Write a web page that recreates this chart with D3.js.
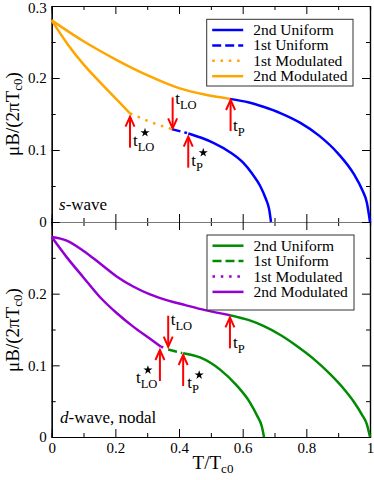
<!DOCTYPE html>
<html>
<head>
<meta charset="utf-8">
<script src="https://cdn.jsdelivr.net/npm/d3@7"></script>
<style>
  body { margin: 0; background: #fff; }
  svg { display: block; font-family: "Liberation Serif", "DejaVu Serif", serif; }
</style>
</head>
<body>
<div id="chart"></div>
<script>
// ---- data (T/Tc0, muB/(2 pi Tc0)) ----
var xTicks = [0, 0.2, 0.4, 0.6, 0.8, 1];
var yTicksTop = [0, 0.1, 0.2, 0.3];
var yTicksBot = [0, 0.1, 0.2];
var legendLabels = ["2nd Uniform", "1st Uniform", "1st Modulated", "2nd Modulated"];

// s-wave
var sUpperMod2 = [[0, 0.28], [0.1, 0.251], [0.2, 0.226], [0.3, 0.204], [0.4, 0.186], [0.48, 0.177], [0.56, 0.171]];
var sUpperUni2 = [[0.56, 0.171], [0.62, 0.166], [0.665, 0.160], [0.72, 0.151], [0.78, 0.138], [0.84, 0.120], [0.9, 0.095], [0.95, 0.066], [0.975, 0.045], [0.99, 0.027], [1, 0]];
var sLowerMod2 = [[0, 0.28], [0.05, 0.247], [0.1, 0.219], [0.15, 0.195], [0.2, 0.172], [0.246, 0.151]];
var sLowerMod1 = [[0.246, 0.151], [0.31, 0.139], [0.377, 0.129]];
var sLowerUni1 = [[0.377, 0.129], [0.425, 0.1235]];
var sLowerUni2 = [[0.429, 0.123], [0.47, 0.117], [0.508, 0.110], [0.56, 0.097], [0.6, 0.083], [0.63, 0.067], [0.655, 0.050], [0.672, 0.033], [0.683, 0.018], [0.689, 0]];

// d-wave, nodal
var dUpperMod2 = [[0, 0.279], [0.047, 0.274], [0.099, 0.260], [0.152, 0.242], [0.204, 0.224], [0.256, 0.210], [0.309, 0.199], [0.361, 0.191], [0.42, 0.184], [0.482, 0.177], [0.56, 0.170]];
var dUpperUni2 = [[0.56, 0.170], [0.62, 0.163], [0.665, 0.155], [0.72, 0.142], [0.77, 0.127], [0.82, 0.110], [0.874, 0.088], [0.92, 0.066], [0.948, 0.050], [0.975, 0.031], [0.99, 0.018], [1, 0]];
var dLowerMod2 = [[0, 0.279], [0.047, 0.251], [0.099, 0.223], [0.152, 0.195], [0.204, 0.173], [0.256, 0.154], [0.309, 0.137], [0.343, 0.126]];
var dLowerMod1 = [[0.343, 0.126], [0.358, 0.124]];
var dLowerUni1 = [[0.366, 0.122], [0.41, 0.117]];
var dLowerUni2 = [[0.413, 0.117], [0.466, 0.111], [0.529, 0.094], [0.581, 0.072], [0.623, 0.048], [0.645, 0.030], [0.66, 0.015], [0.667, 0]];

// arrow annotations: tip position in data units
var sArrowT = [0.246, 0.380, 0.429, 0.562];
var sArrowMu = [0.1463, 0.130, 0.1185, 0.1694];
var dArrowT = [0.340, 0.366, 0.413, 0.560];
var dArrowMu = [0.1214, 0.126, 0.1144, 0.167];
var arrowDir = ["up", "down", "up", "up"];
var arrowSub = ["LO", "LO", "P", "P"];
var arrowStar = [true, false, true, false];

// ---- layout ----
var W = 374, H = 480;
var svg = d3.select("#chart").append("svg").attr("width", W).attr("height", H);

var x = d3.scaleLinear().domain([0, 1]).range([51.7, 370]);
var yTop = d3.scaleLinear().domain([0, 0.3]).range([222, 6]);
var yBot = d3.scaleLinear().domain([0, 0.3]).range([437, 222]);

var fmt = d3.format("~g");

function drawPanel(y, opts) {
  var g = svg.append("g");
  var r = x.range(), yr = y.range();

  // minor ticks
  var minorX = d3.range(0.1, 1, 0.2);
  var minorY = d3.range(0.05, 0.3, 0.1);
  g.append("g").attr("transform", "translate(0," + yr[0] + ")")
    .call(d3.axisBottom(x).tickValues(minorX).tickSize(-4).tickFormat(""));
  g.append("g").attr("transform", "translate(0," + yr[1] + ")")
    .call(d3.axisTop(x).tickValues(minorX).tickSize(-4).tickFormat(""));
  g.append("g").attr("transform", "translate(" + r[0] + ",0)")
    .call(d3.axisLeft(y).tickValues(minorY).tickSize(-4).tickFormat(""));
  g.append("g").attr("transform", "translate(" + r[1] + ",0)")
    .call(d3.axisRight(y).tickValues(minorY).tickSize(-4).tickFormat(""));

  // major ticks
  var bx = d3.axisBottom(x).tickValues(xTicks).tickSize(-8).tickSizeOuter(0).tickPadding(5);
  if (opts.xLabels) bx.tickFormat(fmt); else bx.tickFormat("");
  g.append("g").attr("class", "ax-bottom").attr("transform", "translate(0," + yr[0] + ")").call(bx);
  g.append("g").attr("class", "ax-top").attr("transform", "translate(0," + yr[1] + ")")
    .call(d3.axisTop(x).tickValues(xTicks).tickSize(-8).tickSizeOuter(0).tickFormat(""));
  g.append("g").attr("class", "ax-left").attr("transform", "translate(" + r[0] + ",0)")
    .call(d3.axisLeft(y).tickValues([0, 0.1, 0.2, 0.3]).tickSize(-8).tickSizeOuter(0).tickPadding(5)
      .tickFormat(function(d) { return opts.yLabels.indexOf(d) >= 0 ? fmt(d) : ""; }));
  g.append("g").attr("transform", "translate(" + r[1] + ",0)")
    .call(d3.axisRight(y).tickValues([0, 0.1, 0.2, 0.3]).tickSize(-8).tickSizeOuter(0).tickFormat(""));

  g.selectAll(".tick line").attr("stroke", "#000").attr("stroke-width", 1);
  g.selectAll(".domain").attr("stroke", "#000").attr("stroke-width", 1.2);
  g.selectAll(opts.sharedEdge + " .domain").attr("stroke", "#777");
  g.selectAll(".tick text").attr("font-family", "Liberation Serif").attr("font-size", 15).attr("fill", "#000");
  return g;
}

var gTop = drawPanel(yTop, { xLabels: false, yLabels: yTicksTop, sharedEdge: ".ax-bottom" });
var gBot = drawPanel(yBot, { xLabels: true, yLabels: yTicksBot, sharedEdge: ".ax-top" });
// keep the topmost label inside the page
gTop.selectAll(".ax-left .tick text").filter(function(d) { return d === 0.3; }).attr("dy", "0.42em");

// series styles
var STYLE = {
  uni2: { dash: null },
  uni1: { dash: "9,4" },
  mod1: { dash: "2.5,5.8" },
  mod2: { dash: null }
};

function drawCurve(y, data, color, kind) {
  var line = d3.line()
    .x(function(d) { return x(d[0]); })
    .y(function(d) { return y(d[1]); })
    .curve(d3.curveMonotoneX);
  svg.append("path")
    .datum(data)
    .attr("d", line)
    .attr("fill", "none")
    .attr("stroke", color)
    .attr("stroke-width", 2.5)
    .attr("stroke-dasharray", STYLE[kind].dash);
}

var BLUE = "#0000ff", ORANGE = "#ffa500", GREEN = "#008c00", PURPLE = "#9400d3", RED = "#ff0000";

drawCurve(yTop, sUpperMod2, ORANGE, "mod2");
drawCurve(yTop, sUpperUni2, BLUE, "uni2");
drawCurve(yTop, sLowerMod2, ORANGE, "mod2");
drawCurve(yTop, sLowerMod1, ORANGE, "mod1");
drawCurve(yTop, sLowerUni1, BLUE, "uni1");
drawCurve(yTop, sLowerUni2, BLUE, "uni2");

drawCurve(yBot, dUpperMod2, PURPLE, "mod2");
drawCurve(yBot, dUpperUni2, GREEN, "uni2");
drawCurve(yBot, dLowerMod2, PURPLE, "mod2");
drawCurve(yBot, dLowerMod1, PURPLE, "mod1");
drawCurve(yBot, dLowerUni1, GREEN, "uni1");
drawCurve(yBot, dLowerUni2, GREEN, "uni2");

// arrows with t labels
function drawArrows(y, Ts, Mus, labelOffsets) {
  var len = 31;
  Ts.forEach(function(T, i) {
    var px = x(T), tip = y(Mus[i]);
    var dir = arrowDir[i] === "up" ? 1 : -1;   // tail is below tip for "up"
    var tail = tip + dir * len;
    var g = svg.append("g").attr("stroke", RED).attr("stroke-width", 2).attr("fill", "none");
    g.append("line").attr("x1", px).attr("y1", tail).attr("x2", px).attr("y2", tip + dir * 1);
    g.append("path")
      .attr("d", "M" + (px - 4.5) + "," + (tip + dir * 10) + "L" + px + "," + tip + "L" + (px + 4.5) + "," + (tip + dir * 10));

    var o = labelOffsets[i];
    var lx = px + o[0], ly = tail + o[1];
    var t = svg.append("text")
      .attr("x", lx).attr("y", ly)
      .attr("font-family", "Liberation Serif")
      .attr("font-size", 17)
      .attr("fill", "#000");
    t.append("tspan").text("t");
    t.append("tspan").attr("font-size", 12.5).attr("dy", 5).text(arrowSub[i]);
    if (arrowStar[i]) {
      svg.append("path")
        .attr("d", d3.symbol(d3.symbolStar).size(26)())
        .attr("transform", "translate(" + (lx + 12) + "," + (ly - 13) + ")")
        .attr("fill", "#000");
    }
  });
}

drawArrows(yTop, sArrowT, sArrowMu, [[3, -2], [2.5, 7], [3, -2], [2.5, 0]]);
drawArrows(yBot, dArrowT, dArrowMu, [[-24, 2], [2.5, 9], [4, 2], [3, 0]]);

// legends
function drawLegend(x0, y0, w, h, colors) {
  var g = svg.append("g");
  g.append("rect").attr("x", x0).attr("y", y0).attr("width", w).attr("height", h)
    .attr("fill", "#fff").attr("stroke", "#333").attr("stroke-width", 1);
  var kinds = ["uni2", "uni1", "mod1", "mod2"];
  legendLabels.forEach(function(lab, i) {
    var yy = y0 + 10.7 + i * 15.4;
    g.append("line")
      .attr("x1", x0 + 5.5).attr("x2", x0 + 36.5)
      .attr("y1", yy).attr("y2", yy)
      .attr("stroke", colors[i]).attr("stroke-width", 2.5)
      .attr("stroke-dasharray", STYLE[kinds[i]].dash);
    g.append("text")
      .attr("x", x0 + 46.5).attr("y", yy + 5)
      .attr("font-family", "Liberation Serif")
      .attr("font-size", 15.5)
      .attr("fill", "#000")
      .text(lab);
  });
}
drawLegend(206.7, 19.3, 146.3, 66.7, [BLUE, BLUE, ORANGE, ORANGE]);
drawLegend(207, 235, 147, 75, [GREEN, GREEN, PURPLE, PURPLE]);

// panel labels
var sLab = svg.append("text").attr("x", 59).attr("y", 210)
  .attr("font-family", "Liberation Serif").attr("font-size", 17).attr("fill", "#000");
sLab.append("tspan").attr("font-style", "italic").text("s");
sLab.append("tspan").text("-wave");

var dLab = svg.append("text").attr("x", 60).attr("y", 423)
  .attr("font-family", "Liberation Serif").attr("font-size", 17).attr("fill", "#000");
dLab.append("tspan").attr("font-style", "italic").text("d");
dLab.append("tspan").text("-wave, nodal");

// axis titles
function yTitle(cy) {
  var t = svg.append("text")
    .attr("transform", "translate(19," + cy + ") rotate(-90)")
    .attr("text-anchor", "middle")
    .attr("font-family", "Liberation Serif")
    .attr("font-size", 19)
    .attr("fill", "#000");
  t.append("tspan").text("\u03bcB/(2\u03c0T");
  t.append("tspan").attr("font-size", 13).attr("dy", 3).text("c0");
  t.append("tspan").attr("dy", -3).text(")");
}
yTitle(114);
yTitle(330);

var xt = svg.append("text")
  .attr("x", 213).attr("y", 469)
  .attr("text-anchor", "middle")
  .attr("font-family", "Liberation Serif")
  .attr("font-size", 19)
  .attr("fill", "#000");
xt.append("tspan").text("T/T");
xt.append("tspan").attr("font-size", 13).attr("dy", 4).text("c0");
</script>
</body>
</html>
